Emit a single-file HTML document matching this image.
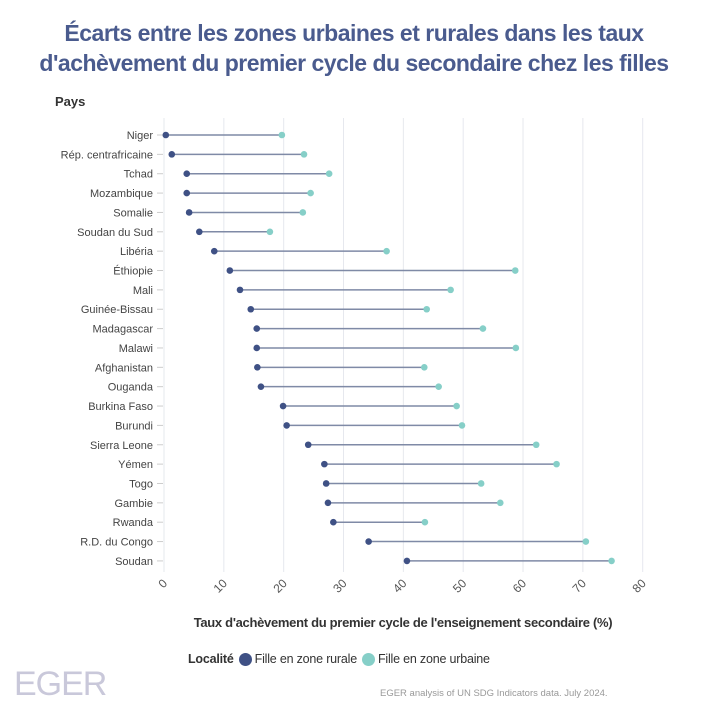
<!DOCTYPE html>
<html><head><meta charset="utf-8"><style>
body{margin:0;width:708px;height:720px;background:#fff;font-family:"Liberation Sans",sans-serif;overflow:hidden;position:relative}
.t{position:absolute;left:0;width:708px;text-align:center;top:18px;font-size:23px;font-weight:bold;color:#4a5b8e;line-height:30px;letter-spacing:-0.5px}
</style></head><body>
<div class="t">Écarts entre les zones urbaines et rurales dans les taux<br>d'achèvement du premier cycle du secondaire chez les filles</div>
<svg id="c" width="708" height="720" style="position:absolute;left:0;top:0"></svg>
<script>
const countries=["Niger","Rép. centrafricaine","Tchad","Mozambique","Somalie","Soudan du Sud","Libéria","Éthiopie","Mali","Guinée-Bissau","Madagascar","Malawi","Afghanistan","Ouganda","Burkina Faso","Burundi","Sierra Leone","Yémen","Togo","Gambie","Rwanda","R.D. du Congo","Soudan"];
const rural=[0.3,1.3,3.8,3.8,4.2,5.9,8.4,11,12.7,14.5,15.5,15.5,15.6,16.2,19.9,20.5,24.1,26.8,27.1,27.4,28.3,34.2,40.6];
const urban=[19.7,23.4,27.6,24.5,23.2,17.7,37.2,58.7,47.9,43.9,53.3,58.8,43.5,45.9,48.9,49.8,62.2,65.6,53,56.2,43.6,70.5,74.8];
const ticks=[0,10,20,30,40,50,60,70,80];
const NS="http://www.w3.org/2000/svg";
const svg=document.getElementById('c');
const x=v=>164+v*(642.7-164)/80;
const y=i=>135+i*19.36;
function mk(t,a,p){const e=document.createElementNS(NS,t);for(const k in a)e.setAttribute(k,a[k]);(p||svg).appendChild(e);return e;}
ticks.forEach(t=>{
const g=mk('line',{x1:x(t),x2:x(t),y1:118,y2:572,stroke:'#e6e8ee','stroke-width':1});


const tx=mk('text',{x:x(t)+4,y:584,'font-size':12,fill:'#555','text-anchor':'end',transform:`rotate(-45 ${x(t)+4} 584)`});
tx.textContent=t;


});
countries.forEach((c,i)=>{
const yy=y(i);
const lb=mk('text',{x:153,y:yy+4,'font-size':11,fill:'#444','text-anchor':'end'});
lb.textContent=c;


mk('line',{x1:157,x2:163,y1:yy,y2:yy,stroke:'#ccc'});
const l=mk('line',{x1:x(rural[i]),x2:x(urban[i]),y1:yy,y2:yy,stroke:'#7f8aa6','stroke-width':1.5});


const u=mk('circle',{cx:x(urban[i]),cy:yy,r:3.3,fill:'#86cfc8'});


const r=mk('circle',{cx:x(rural[i]),cy:yy,r:3.3,fill:'#3f5185'});


});
</script>
<div style="position:absolute;left:55px;top:94px;font-size:13px;font-weight:bold;color:#333">Pays</div>
<div style="position:absolute;left:120px;width:566px;text-align:center;top:615px;font-size:13px;font-weight:bold;color:#333;letter-spacing:-0.3px">Taux d'achèvement du premier cycle de l'enseignement secondaire (%)</div>
<div style="position:absolute;left:188px;top:652px;font-size:12.5px;color:#333;display:flex;align-items:center;white-space:nowrap;letter-spacing:-0.2px">
<b>Localité</b>
<span style="display:flex;align-items:center;margin-left:5px"><span style="width:13px;height:13px;border-radius:50%;background:#3f5185;margin-right:3px"></span>Fille en zone rurale</span>
<span style="display:flex;align-items:center;margin-left:5px"><span style="width:13px;height:13px;border-radius:50%;background:#86cfc8;margin-right:3px"></span>Fille en zone urbaine</span>
</div>
<div style="position:absolute;left:14px;top:665px;font-size:34px;color:#c9c8da;letter-spacing:-1px">EGER</div>
<div style="position:absolute;left:380px;top:688px;font-size:9.5px;color:#999">EGER analysis of UN SDG Indicators data. July 2024.</div>
</body></html>
